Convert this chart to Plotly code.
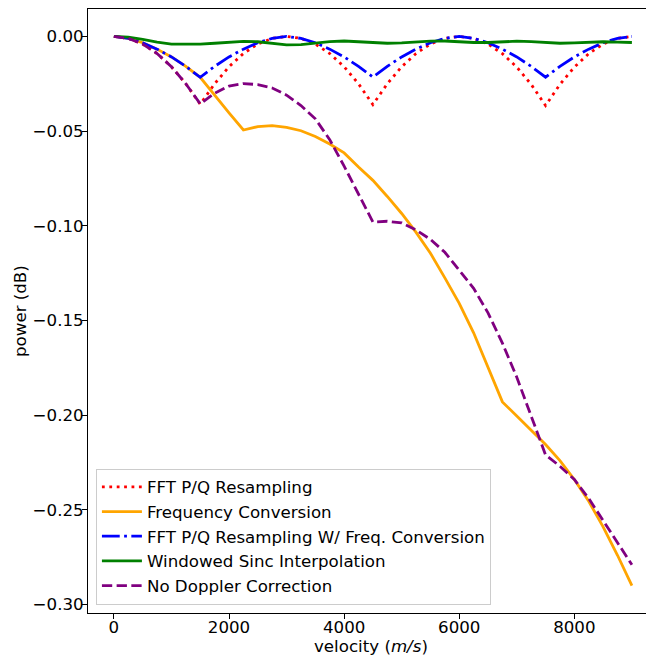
import plotly.graph_objects as go

velocity = [0, 250, 500, 750, 1000, 1250, 1500, 1750, 2000, 2250, 2500, 2750,
            3000, 3250, 3500, 3750, 4000, 4250, 4500, 4750, 5000, 5250, 5500, 5750,
            6000, 6250, 6500, 6750, 7000, 7250, 7500, 7750, 8000, 8250, 8500, 8750, 9000]

fft_pq = [0.0, -0.0010, -0.0040, -0.0090, -0.0160, -0.0250, -0.0358, -0.0250, -0.0160, -0.0090, -0.0040, -0.0010,
          0.0, -0.0010, -0.0040, -0.0090, -0.0160, -0.0250, -0.0360, -0.0250, -0.0160, -0.0090, -0.0040, -0.0010,
          0.0, -0.0010, -0.0040, -0.0091, -0.0162, -0.0253, -0.0365, -0.0253, -0.0162, -0.0091, -0.0040, -0.0010, 0.0]

freq_conv = [0.0, -0.0010, -0.0033, -0.0067, -0.0108, -0.0158, -0.0216, -0.0312, -0.0403, -0.0494, -0.0476, -0.0471,
             -0.0480, -0.0498, -0.0528, -0.0568, -0.0615, -0.0690, -0.0760, -0.0845, -0.0935, -0.1035, -0.1145, -0.1275,
             -0.1410, -0.1565, -0.1745, -0.1930, -0.2005, -0.2080, -0.2155, -0.2240, -0.2340, -0.2455, -0.2590, -0.2740, -0.2900]

fft_pq_fc = [0.0, -0.0010, -0.0033, -0.0067, -0.0108, -0.0158, -0.0216, -0.0158, -0.0108, -0.0067, -0.0033, -0.0010,
             0.0, -0.0010, -0.0033, -0.0067, -0.0108, -0.0158, -0.0214, -0.0158, -0.0108, -0.0067, -0.0033, -0.0010,
             0.0, -0.0010, -0.0033, -0.0067, -0.0108, -0.0158, -0.0215, -0.0158, -0.0108, -0.0067, -0.0033, -0.0010, 0.0]

sinc_interp = [0.0, -0.0004, -0.0015, -0.0030, -0.0040, -0.0041, -0.0040, -0.0036, -0.0030, -0.0026, -0.0028, -0.0036,
               -0.0044, -0.0043, -0.0035, -0.0027, -0.0024, -0.0027, -0.0033, -0.0036, -0.0034, -0.0029, -0.0025, -0.0024,
               -0.0028, -0.0032, -0.0032, -0.0029, -0.0025, -0.0027, -0.0033, -0.0036, -0.0034, -0.0030, -0.0028, -0.0030, -0.0032]

no_doppler = [0.0, -0.0010, -0.0040, -0.0090, -0.0160, -0.0250, -0.0356, -0.0300, -0.0262, -0.0249, -0.0254, -0.0272,
              -0.0310, -0.0365, -0.0435, -0.0545, -0.0685, -0.0830, -0.0980, -0.0976, -0.0985, -0.1022, -0.1072, -0.1140,
              -0.1235, -0.1330, -0.1460, -0.1620, -0.1800, -0.2000, -0.2210, -0.2270, -0.2340, -0.2440, -0.2555, -0.2670, -0.2790]

series_names = ["FFT P/Q Resampling", "Frequency Conversion", "FFT P/Q Resampling W/ Freq. Conversion",
                "Windowed Sinc Interpolation", "No Doppler Correction"]
x_ticks = [0, 2000, 4000, 6000, 8000]
y_ticks = [0.0, -0.05, -0.10, -0.15, -0.20, -0.25, -0.30]

series = [fft_pq, freq_conv, fft_pq_fc, sinc_interp, no_doppler]
colors = ["red", "orange", "blue", "green", "purple"]
dashes = ["2.8px,4.6px", "solid", "17.8px,4.4px,2.8px,4.4px", "solid", "10.3px,4.4px"]

fig = go.Figure()
for i, (name, ys) in enumerate(zip(series_names, series)):
    fig.add_trace(go.Scatter(
        x=velocity, y=ys, mode="lines", name=name,
        line=dict(color=colors[i], width=2.8, dash=dashes[i]),
    ))

FS = 16.67
font = dict(family="DejaVu Sans", size=FS, color="black")

# page body has an 8px margin, so the figure is drawn 8px right/down
fig.update_layout(
    width=646, height=650,
    margin=dict(l=80, r=0, t=1, b=45, autoexpand=False),
    paper_bgcolor="white", plot_bgcolor="white",
    font=font,
    showlegend=True,
    legend=dict(
        x=0.014, y=0.014, xanchor="left", yanchor="bottom",
        bgcolor="rgba(255,255,255,0.8)", bordercolor="#cccccc", borderwidth=1,
        font=font, itemwidth=40,
    ),
    annotations=[
        dict(text="velocity (<i>m/s</i>)", x=0.5, y=0, xref="paper", yref="paper",
             xanchor="center", yanchor="top", yshift=-22, showarrow=False, font=font),
        dict(text="power (dB)", textangle=-90, xref="paper", yref="paper", x=0, y=0.5,
             xanchor="center", yanchor="middle", xshift=-68, showarrow=False, font=font),
    ],
)
fig.update_xaxes(
    range=[-450, 9384], tickvals=x_ticks, ticktext=[str(v) for v in x_ticks],
    showgrid=False, zeroline=False, showline=True, linecolor="black", linewidth=1,
    mirror=True, ticks="outside", ticklen=5, tickwidth=1, tickcolor="black",
    tickfont=font, automargin=False, ticklabelstandoff=-6,
)
fig.update_yaxes(
    range=[-0.3045, 0.0145], tickvals=y_ticks, tickformat=".2f",
    showgrid=False, zeroline=False, showline=True, linecolor="black", linewidth=1,
    mirror=False, ticks="outside", ticklen=5, tickwidth=1, tickcolor="black",
    tickfont=font, automargin=False, ticklabelstandoff=-5,
)

fig.write_html("out.html")
